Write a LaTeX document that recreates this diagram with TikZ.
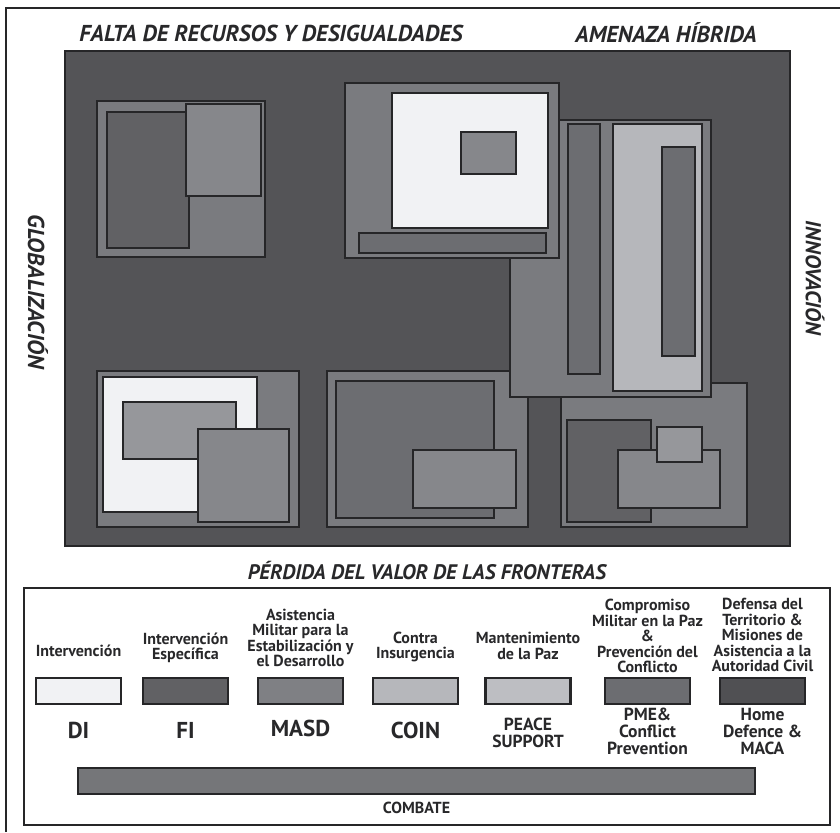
\documentclass[tikz,border=0pt]{standalone}
\usepackage{fontspec}
\setmainfont{PT Sans}
\usepackage{tikz}
\usetikzlibrary{positioning}
\definecolor{ink}{RGB}{40,40,42}
\definecolor{edge}{RGB}{38,38,40}
\definecolor{bgdark}{RGB}{84,84,87}
\definecolor{midgray}{RGB}{122,123,127}
\definecolor{cDI}{RGB}{241,242,244}
\definecolor{cFI}{RGB}{97,97,100}
\definecolor{cMASD}{RGB}{127,128,132}
\definecolor{cCOIN}{RGB}{182,183,187}
\definecolor{cPeace}{RGB}{189,190,194}
\definecolor{cPME}{RGB}{108,109,113}
\definecolor{cHome}{RGB}{80,80,83}
\definecolor{lightgray}{RGB}{134,135,139}
\definecolor{palegray}{RGB}{150,151,155}
\tikzset{%
  % Specifications for the boxes of the map
  zone/.style = {draw=edge, line width=2.4pt, fill=midgray},
  % Specifications for the legend
  swatch/.style = {rectangle, draw=edge, line width=2.6pt,
    minimum width=85pt, minimum height=26pt, inner sep=0pt},
  heading/.style = {font=\bfseries\itshape\fontsize{23}{25}\selectfont,
    text=ink, inner sep=0pt},
  keytext/.style = {align=center, text=ink, inner sep=0pt,
    font=\bfseries\fontsize{16}{15.5}\selectfont},
  code/.style = {align=center, text=ink, inner sep=0pt,
    font=\bfseries\fontsize{23}{24}\selectfont},
  smallcode/.style = {code, font=\bfseries\fontsize{17.5}{17}\selectfont},
}

\begin{document}
\begin{tikzpicture}[x=1pt, y=-1pt]
  \useasboundingbox (0,0) rectangle (840,832);
  \draw[edge, line width=1.2pt] (6,832) -- (6,8) -- (840,8);

  % map background
  \filldraw[fill=bgdark, draw=edge, line width=1.2pt] (65,51) rectangle (790,546);

  % top left
  \filldraw[zone] (97,101) rectangle (265,257);
  \filldraw[zone, fill=cFI] (107,112) rectangle (189,248);
  \filldraw[zone, fill=lightgray] (186,104) rectangle (261,196);

  % bottom left
  \filldraw[zone] (97,371) rectangle (299,527);
  \filldraw[zone, fill=cDI] (103,377) rectangle (257,512);
  \filldraw[zone, fill=palegray] (123,402) rectangle (236,459);
  \filldraw[zone, fill=lightgray] (198,429) rectangle (289,522);

  % bottom middle
  \filldraw[zone] (327,371) rectangle (528,527);
  \filldraw[zone, fill=cPME] (336,381) rectangle (494,518);
  \filldraw[zone, fill=lightgray] (413,450) rectangle (516,508);

  % bottom right
  \filldraw[zone] (561,383) rectangle (747,527);
  \filldraw[zone, fill=cFI] (567,420) rectangle (651,522);
  \filldraw[zone, fill=lightgray] (618,450) rectangle (720,508);
  \filldraw[zone, fill=palegray] (657,427) rectangle (702,462);

  % tall block
  \filldraw[zone] (510,120) rectangle (711,397);
  \filldraw[zone, fill=cPME] (568,124) rectangle (600,374);
  \filldraw[zone, fill=cCOIN] (613,124) rectangle (702,391);
  \filldraw[zone, fill=cPME] (662,147) rectangle (695,356);

  % top middle
  \filldraw[zone] (345,83) rectangle (559,258);
  \filldraw[zone, fill=cDI] (392,93) rectangle (548,228);
  \filldraw[zone, fill=lightgray] (461,132) rectangle (516,174);
  \filldraw[zone, fill=cPME] (359,233) rectangle (546,253);

  % headings
  \node(Lack)[heading] at (271,33) {FALTA DE RECURSOS Y DESIGUALDADES};
  \node(Hybrid)[heading] at (666,33) {AMENAZA HÍBRIDA};
  \node(Borders)[heading, font=\bfseries\itshape\fontsize{21}{23}\selectfont] at (427,571) {PÉRDIDA DEL VALOR DE LAS FRONTERAS};
  \node(Glob)[heading, rotate=-90] at (38,292) {GLOBALIZACIÓN};
  \node(Innov)[heading, rotate=-90, font=\bfseries\itshape\fontsize{21.5}{23}\selectfont] at (815,278) {INNOVACIÓN};

  % legend
  \draw[edge, line width=2pt] (24,588) rectangle (830,825);
  \node(DI)[swatch, fill=cDI] at (78.5,691) {};
  \node(FI)[swatch, fill=cFI] at (185.5,691) {};
  \node(MASD)[swatch, fill=cMASD] at (300.5,691) {};
  \node(COIN)[swatch, fill=cCOIN] at (415.5,691) {};
  \node(Peace)[swatch, fill=cPeace] at (528,691) {};
  \node(PME)[swatch, fill=cPME] at (647.5,691) {};
  \node(Home)[swatch, fill=cHome] at (762.5,691) {};

  \node(DItext)[keytext] at (78.5,651) {Intervención};
  \node(FItext)[keytext] at (185.5,648) {Intervención\\Específica};
  \node(MASDtext)[keytext] at (300.5,638) {Asistencia\\Militar para la\\Estabilización y\\el Desarrollo};
  \node(COINtext)[keytext] at (415.5,647) {Contra\\Insurgencia};
  \node(Peacetext)[keytext] at (528,646) {Mantenimiento\\de la Paz};
  \node(PMEtext)[keytext] at (647.5,636) {Compromiso\\Militar en la Paz\\\&\\Prevención del\\Conflicto};
  \node(Hometext)[keytext] at (762.5,635) {Defensa del\\Territorio \&\\Misiones de\\Asistencia a la\\Autoridad Civil};

  \node(DIcode)[code] at (78.5,730) {DI};
  \node(FIcode)[code] at (185.5,730) {FI};
  \node(MASDcode)[code] at (300.5,728) {MASD};
  \node(COINcode)[code] at (415.5,730) {COIN};
  \node(Peacecode)[smallcode] at (528,733) {PEACE\\SUPPORT};
  \node(PMEcode)[smallcode] at (647.5,731) {PME\&\\Conflict\\Prevention};
  \node(Homecode)[smallcode] at (762.5,731) {Home\\Defence \&\\MACA};

  \node(Combat)[rectangle, draw=edge, line width=2.6pt, fill=cMASD!92!black,
    minimum width=677pt, minimum height=26pt, inner sep=0pt] at (416.5,781) {};
  \node(Combattext)[keytext, below=7pt of Combat] {COMBATE};
\end{tikzpicture}
\end{document}
